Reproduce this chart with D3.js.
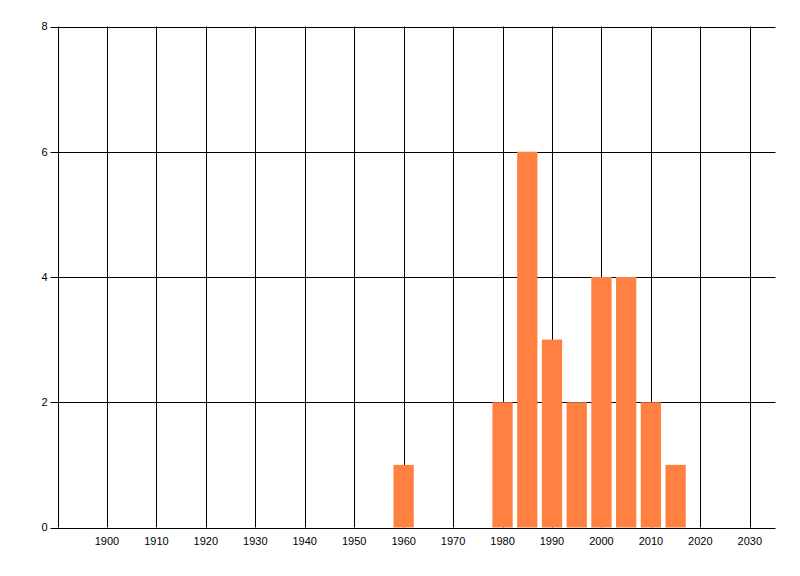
<!DOCTYPE html>
<html>
<head>
<meta charset="utf-8">
<script src="https://cdn.jsdelivr.net/npm/d3@7"></script>
<style>
  body { margin: 0; background: #fff; }
  text { font-family: "Liberation Sans", Arial, sans-serif; font-size: 11px; fill: #000; }
</style>
</head>
<body>
<svg id="chart"></svg>
<script>
// values
const years = [1960, 1980, 1985, 1990, 1995, 2000, 2005, 2010, 2015];
const counts = [1, 2, 6, 3, 2, 4, 4, 2, 1];
const xTicks = [1900, 1910, 1920, 1930, 1940, 1950, 1960, 1970, 1980, 1990, 2000, 2010, 2020, 2030];
const xGrid = [1890].concat(xTicks);
const yTicks = [0, 2, 4, 6, 8];

const width = 800;
const height = 576;
const plotLeft = 57.5;
const plotRight = 775.5;
const plotTop = 26.5;
const plotBottom = 527.5;
const barYears = 4.1;

const svg = d3.select("#chart")
    .attr("width", width)
    .attr("height", height);

const x = d3.scaleLinear().domain([1890, 2035.2]).range([plotLeft, plotRight]);
const y = d3.scaleLinear().domain([0, 8]).range([plotBottom, plotTop]);

// horizontal grid + y ticks
svg.append("g")
    .selectAll("line")
    .data(yTicks)
    .join("line")
    .attr("x1", plotLeft - 7)
    .attr("x2", plotRight)
    .attr("y1", d => Math.round(y(d)) + 0.5)
    .attr("y2", d => Math.round(y(d)) + 0.5)
    .attr("stroke", "#000");

// vertical grid
svg.append("g")
    .selectAll("line")
    .data(xGrid)
    .join("line")
    .attr("x1", d => Math.round(x(d)) + 0.5)
    .attr("x2", d => Math.round(x(d)) + 0.5)
    .attr("y1", plotTop)
    .attr("y2", plotBottom)
    .attr("stroke", "#000");

// bars
svg.append("g")
    .selectAll("rect")
    .data(years)
    .join("rect")
    .attr("x", d => x(d - barYears / 2))
    .attr("width", x(1890 + barYears) - x(1890))
    .attr("y", (d, i) => y(counts[i]))
    .attr("height", (d, i) => y(0) - y(counts[i]))
    .attr("fill", "#ff8040");

// y labels
svg.append("g")
    .selectAll("text")
    .data(yTicks)
    .join("text")
    .attr("x", plotLeft - 10)
    .attr("y", d => y(d))
    .attr("dy", "0.35em")
    .attr("text-anchor", "end")
    .text(d => d);

// x labels
svg.append("g")
    .selectAll("text")
    .data(xTicks)
    .join("text")
    .attr("x", d => x(d))
    .attr("y", plotBottom + 14)
    .attr("dy", "0.35em")
    .attr("text-anchor", "middle")
    .text(d => d);
</script>
</body>
</html>
